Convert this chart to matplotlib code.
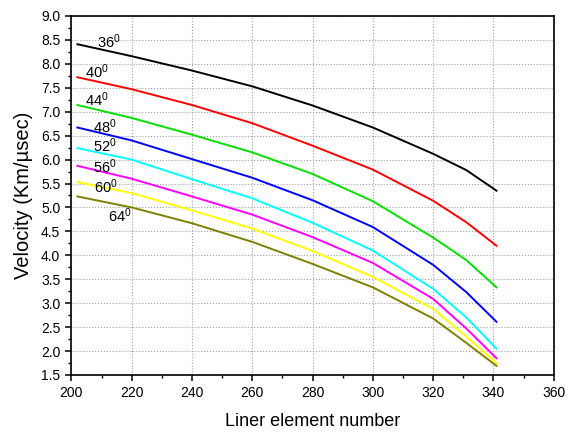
import matplotlib
matplotlib.use("Agg")
import matplotlib.pyplot as plt
from matplotlib.ticker import MultipleLocator

plt.rcParams['font.family'] = ['Liberation Sans', 'DejaVu Sans']
plt.rcParams['mathtext.fontset'] = 'custom'
plt.rcParams['mathtext.rm'] = 'Liberation Sans'
plt.rcParams['mathtext.it'] = 'Liberation Sans:italic'

# data
elements = [202, 220, 240, 260, 280, 300, 320, 331, 341]
angles = ["36", "40", "44", "48", "52", "56", "60", "64"]
v36 = [8.41, 8.16, 7.86, 7.53, 7.13, 6.67, 6.12, 5.78, 5.35]
v40 = [7.72, 7.47, 7.14, 6.76, 6.29, 5.79, 5.14, 4.69, 4.20]
v44 = [7.14, 6.87, 6.52, 6.15, 5.70, 5.13, 4.37, 3.90, 3.33]
v48 = [6.67, 6.40, 6.01, 5.62, 5.15, 4.59, 3.80, 3.23, 2.61]
v52 = [6.24, 6.00, 5.59, 5.19, 4.68, 4.10, 3.30, 2.70, 2.05]
v56 = [5.87, 5.60, 5.23, 4.85, 4.38, 3.84, 3.09, 2.47, 1.85]
v60 = [5.53, 5.30, 4.94, 4.56, 4.09, 3.55, 2.88, 2.30, 1.75]
v64 = [5.23, 5.00, 4.67, 4.28, 3.82, 3.33, 2.68, 2.17, 1.69]
series = [v36, v40, v44, v48, v52, v56, v60, v64]
colors = ["black", "#ff0000", "#00e000", "#0000ff", "#00ffff", "#ff00ff", "#ffff00", "#808000"]

# label anchor points (x, y) for the angle text
label_x = [208.5, 204.5, 204.5, 207.2, 207.2, 207.2, 207.5, 212.2]
label_y = [8.46, 7.83, 7.25, 6.68, 6.28, 5.86, 5.43, 4.82]

fig = plt.figure(figsize=(5.68, 4.32), dpi=100)
ax = fig.add_axes([0.1257, 0.132, 0.8493, 0.831])

for vals, c in zip(series, colors):
    ax.plot(elements, vals, color=c, lw=1.4)

for a, lx, ly in zip(angles, label_x, label_y):
    ax.text(lx, ly, a + r"$^{\mathrm{0}}$", fontsize=10.5, va="center", ha="left")

ax.set_xlim(200, 360)
ax.set_ylim(1.5, 9.0)
ax.xaxis.set_major_locator(MultipleLocator(20))
ax.xaxis.set_minor_locator(MultipleLocator(10))
ax.yaxis.set_major_locator(MultipleLocator(0.5))
ax.yaxis.set_minor_locator(MultipleLocator(0.25))
ax.yaxis.set_major_formatter(matplotlib.ticker.FormatStrFormatter("%.1f"))

ax.grid(True, which="major", ls=":", color="#a0a0a0", lw=0.8)
ax.tick_params(which="major", direction="out", length=4.5, width=1.1, labelsize=10)
ax.tick_params(which="minor", direction="out", length=2.5, width=1.0)
for s in ax.spines.values():
    s.set_linewidth(1.2)

ax.set_xlabel("Liner element number", fontsize=13, labelpad=9)
ax.set_ylabel("Velocity (Km/\u00b5sec)", fontsize=14.5, labelpad=6)

fig.savefig("out.png", dpi=100)
